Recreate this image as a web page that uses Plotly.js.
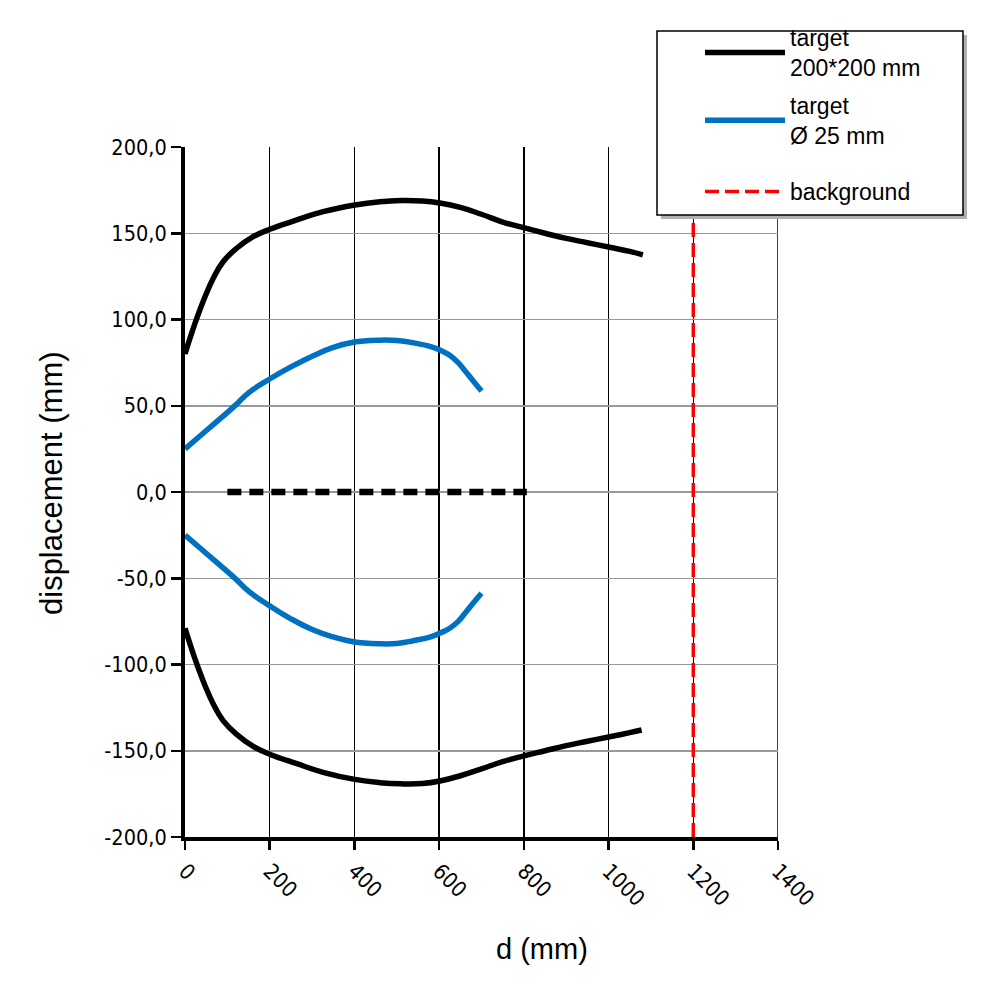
<!DOCTYPE html>
<html>
<head>
<meta charset="utf-8">
<script src="https://cdn.plot.ly/plotly-3.0.1.min.js"></script>
<style>html,body{margin:0;padding:0;background:#fff;}#chart{width:1000px;height:1000px;}</style>
</head>
<body>
<div id="chart"></div>
<script>
// Data
var bigX_upper = [0, 24, 47, 67, 90, 122, 161, 200, 264, 326, 401, 460, 510, 560, 602, 650, 700, 750, 795, 850, 900, 950, 1000, 1050, 1081];
var bigY_upper = [80, 98, 113, 124, 133.5, 141.3, 148, 152.3, 157.7, 162.5, 166.4, 168.3, 169, 168.7, 167.5, 165, 161, 156.5, 153.5, 150, 147, 144.5, 142, 139.5, 137.5];
var bigX_lower = [0, 24, 47, 67, 90, 122, 161, 200, 264, 326, 401, 460, 510, 560, 602, 650, 700, 750, 800, 850, 900, 950, 1000, 1050, 1078];
var bigY_lower = [-79, -97, -112, -123, -132.5, -140.5, -147.5, -152, -157.5, -162.5, -166.6, -168.5, -169.2, -169, -167.5, -164.5, -160.5, -156.3, -153, -150, -147, -144.5, -142, -139.5, -138];

var smallX_upper = [0, 45, 90, 120, 150, 200, 250, 303, 350, 397, 460, 500, 539, 580, 602, 625, 645, 662, 680, 700];
var smallY_upper = [25, 34.5, 44, 50.5, 57.5, 65.5, 72.5, 79, 83.8, 86.8, 88, 87.8, 86.5, 84.3, 82.3, 79.3, 75, 70, 64.5, 58.5];
var smallX_lower = [0, 45, 90, 120, 150, 200, 250, 303, 350, 397, 460, 500, 539, 580, 602, 625, 645, 662, 680, 700];
var smallY_lower = [-25, -34.5, -44, -50.5, -57.5, -66, -73.5, -80, -84, -86.8, -88, -87.8, -86.2, -84, -81.8, -79, -75, -70, -64.5, -58.7];

var axisX = [100, 807];
var axisY = [0, 0];

var bgX = [1200, 1200];
var bgY = [-200, 200];

var xTickVals = [0, 200, 400, 600, 800, 1000, 1200, 1400];
var xTickText = ['0', '200', '400', '600', '800', '1000', '1200', '1400'];
var yTickVals = [-200, -150, -100, -50, 0, 50, 100, 150, 200];
var yTickText = ['-200,0', '-150,0', '-100,0', '-50,0', '0,0', '50,0', '100,0', '150,0', '200,0'];

var nameBig = 'target<br>200*200 mm';
var nameSmall = 'target<br>Ø 25 mm';
var nameBg = 'background';
var xTitle = 'd (mm)';
var yTitle = 'displacement (mm)';

var traces = [
  {x: bgX, y: bgY, mode: 'lines', name: nameBg, legend: 'legend2',
   line: {color: '#ff0000', width: 3.5, dash: '14px,6px'}},
  {x: bigX_upper, y: bigY_upper, mode: 'lines', name: nameBig, legendrank: 1, legendgroup: 'a',
   line: {color: '#000000', width: 5.5, shape: 'spline', smoothing: 1.3}},
  {x: bigX_lower, y: bigY_lower, mode: 'lines', name: nameBig, showlegend: false, legendgroup: 'a',
   line: {color: '#000000', width: 5.5, shape: 'spline', smoothing: 1.3}},
  {x: smallX_upper, y: smallY_upper, mode: 'lines', name: nameSmall, legendrank: 2, legendgroup: 'b',
   line: {color: '#0070c0', width: 5.5, shape: 'spline', smoothing: 1.3}},
  {x: smallX_lower, y: smallY_lower, mode: 'lines', name: nameSmall, showlegend: false, legendgroup: 'b',
   line: {color: '#0070c0', width: 5.5, shape: 'spline', smoothing: 1.3}},
  {x: axisX, y: axisY, mode: 'lines', showlegend: false, name: 'axis',
   line: {color: '#000000', width: 6.5, dash: '14px,8px'}}
];

var L = 185, R = 222, T = 147, B = 163;
var PW = 1000 - L - R, PH = 1000 - T - B;
function px(v) { return (v - L) / PW; }
function py(v) { return (1000 - B - v) / PH; }

var sans = "'Liberation Sans', Arial, sans-serif";
var tickFont = {family: "'DejaVu Sans Condensed', 'Liberation Sans Narrow', 'DejaVu Sans', sans-serif", size: 21.5, color: '#000'};
var legFont = {size: 23, family: sans, color: '#000'};
var layout = {
  width: 1000, height: 1000,
  margin: {l: L, r: R, t: T, b: B},
  paper_bgcolor: '#fff', plot_bgcolor: '#fff',
  showlegend: true,
  font: {family: sans, color: '#000'},
  xaxis: {
    range: [0, 1400], tickvals: xTickVals, ticktext: xTickText, tickangle: 45,
    tickfont: tickFont, ticks: 'outside', ticklen: 9, tickwidth: 2.5, tickcolor: '#000',
    showline: true, linewidth: 4, linecolor: '#000',
    showgrid: true, gridcolor: '#000', gridwidth: 1.5, zeroline: false
  },
  yaxis: {
    range: [-200, 200], tickvals: yTickVals, ticktext: yTickText,
    tickfont: tickFont, ticks: 'outside', ticklen: 10, tickwidth: 2.5, tickcolor: '#000',
    showline: true, linewidth: 4, linecolor: '#000',
    showgrid: true, gridcolor: '#999', gridwidth: 1.5, zeroline: false
  },
  legend: {
    x: px(700), y: py(16), xanchor: 'left', yanchor: 'top',
    bgcolor: 'rgba(0,0,0,0)', borderwidth: 0, font: legFont,
    itemwidth: 80, tracegroupgap: 5, traceorder: 'grouped'
  },
  legend2: {
    x: px(700), y: py(170), xanchor: 'left', yanchor: 'top',
    bgcolor: 'rgba(0,0,0,0)', borderwidth: 0, font: legFont,
    itemwidth: 80
  },
  annotations: [
    {text: xTitle, xref: 'paper', yref: 'paper', x: px(542), y: py(949), xanchor: 'center', yanchor: 'middle',
     showarrow: false, font: {size: 29, family: sans, color: '#000'}},
    {text: yTitle, xref: 'paper', yref: 'paper', x: px(51), y: py(483), xanchor: 'center', yanchor: 'middle',
     textangle: -90, showarrow: false, font: {size: 31, family: sans, color: '#000'}}
  ],
  shapes: [
    {type: 'line', xref: 'x', yref: 'paper', layer: 'below',
     x0: 1400, x1: 1400, y0: 0, y1: 1, line: {color: '#000', width: 1.5}},
    {type: 'rect', xref: 'paper', yref: 'paper', layer: 'above',
     x0: px(661), x1: px(967), y0: py(219), y1: py(35),
     fillcolor: '#b0b0b0', line: {width: 0}},
    {type: 'rect', xref: 'paper', yref: 'paper', layer: 'above',
     x0: px(657), x1: px(963), y0: py(215), y1: py(31),
     fillcolor: '#ffffff', line: {color: '#000', width: 1.5}}
  ]
};

Plotly.newPlot('chart', traces, layout, {displayModeBar: false, staticPlot: true});
</script>
</body>
</html>
